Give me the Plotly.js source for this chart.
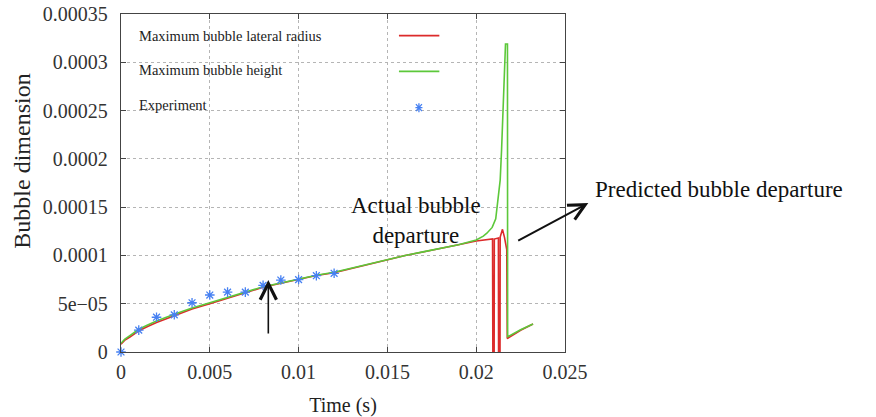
<!DOCTYPE html>
<html>
<head>
<meta charset="utf-8">
<script src="https://cdn.plot.ly/plotly-3.0.1.min.js"></script>
<style>
html,body{margin:0;padding:0;background:#fff;}
#chart{width:876px;height:417px;}
</style>
</head>
<body>
<div id="chart"></div>
<script>
// ---- data ----
var timeRadius = [0, 0.0002, 0.0005, 0.001, 0.0015, 0.002, 0.003, 0.004, 0.005, 0.006, 0.007, 0.008, 0.009, 0.010, 0.011, 0.012, 0.013, 0.014, 0.015, 0.016, 0.017, 0.018, 0.019, 0.020, 0.0205, 0.02092, 0.02094, 0.02101, 0.02102, 0.02125, 0.02126, 0.02134, 0.02135, 0.02148, 0.02159, 0.02167, 0.02172, 0.02175, 0.0225, 0.0232];
var lateralRadius = [0.8e-5, 1.2e-5, 1.55e-5, 2.2e-5, 2.65e-5, 3.05e-5, 3.75e-5, 4.45e-5, 5.0e-5, 5.55e-5, 6.1e-5, 6.7e-5, 7.12e-5, 7.52e-5, 7.92e-5, 8.2e-5, 8.65e-5, 9.1e-5, 9.55e-5, 1.0e-4, 1.035e-4, 1.07e-4, 1.11e-4, 1.15e-4, 1.165e-4, 1.17e-4, -1e-5, -1e-5, 1.17e-4, 1.18e-4, -1e-5, -1e-5, 1.19e-4, 1.27e-4, 1.19e-4, 1.1e-4, 1.06e-4, 1.4e-5, 2.25e-5, 2.9e-5];

var timeHeight = [0, 0.0002, 0.0005, 0.001, 0.0015, 0.002, 0.003, 0.004, 0.005, 0.006, 0.007, 0.008, 0.009, 0.010, 0.011, 0.012, 0.013, 0.014, 0.015, 0.016, 0.017, 0.018, 0.019, 0.020, 0.0204, 0.0206, 0.0209, 0.0211, 0.02126, 0.02135, 0.02143, 0.02147, 0.0215, 0.02153, 0.0216, 0.02165, 0.02176, 0.02177, 0.0225, 0.0232];
var bubbleHeight = [0.9e-5, 1.3e-5, 1.7e-5, 2.35e-5, 2.8e-5, 3.2e-5, 3.9e-5, 4.55e-5, 5.1e-5, 5.65e-5, 6.15e-5, 6.75e-5, 7.15e-5, 7.55e-5, 7.95e-5, 8.25e-5, 8.7e-5, 9.12e-5, 9.57e-5, 1.0e-4, 1.037e-4, 1.072e-4, 1.11e-4, 1.16e-4, 1.2e-4, 1.23e-4, 1.29e-4, 1.38e-4, 1.6e-4, 1.78e-4, 2.1e-4, 2.3e-4, 2.4e-4, 2.7e-4, 2.98e-4, 3.19e-4, 3.19e-4, 1.58e-5, 2.3e-5, 2.9e-5];

var timeExp = [0, 0.001, 0.002, 0.003, 0.004, 0.005, 0.006, 0.007, 0.008, 0.009, 0.010, 0.011, 0.012];
var experiment = [0, 2.27e-5, 3.6e-5, 3.85e-5, 5.1e-5, 5.9e-5, 6.2e-5, 6.2e-5, 6.9e-5, 7.45e-5, 7.5e-5, 7.9e-5, 8.15e-5];

var xTickVals = [0, 0.005, 0.01, 0.015, 0.02, 0.025];
var xTickText = ['0', '0.005', '0.01', '0.015', '0.02', '0.025'];
var yTickVals = [0, 5e-5, 1e-4, 1.5e-4, 2e-4, 2.5e-4, 3e-4, 3.5e-4];
var yTickText = ['0', '5e\u221205', '0.0001', '0.00015', '0.0002', '0.00025', '0.0003', '0.00035'];

var seriesNames = ['Maximum bubble lateral radius', 'Maximum bubble height', 'Experiment'];
var annotationTexts = ['Actual bubble<br>departure', 'Predicted bubble departure'];
var xTitle = 'Time (s)';
var yTitle = 'Bubble dimension';

var RED = '#dc2b2b', GREEN = '#5cc83a', BLUE = '#4680f2';
var SERIF = 'Liberation Serif, Times New Roman, serif';

var traces = [
  {x: timeRadius, y: lateralRadius, type: 'scatter', mode: 'lines', name: seriesNames[0],
   line: {color: RED, width: 1.6}},
  {x: timeHeight, y: bubbleHeight, type: 'scatter', mode: 'lines', name: seriesNames[1],
   line: {color: GREEN, width: 1.6}},
  {x: timeExp, y: experiment, type: 'scatter', mode: 'markers', name: seriesNames[2],
   marker: {symbol: 'asterisk-open', size: 8, color: BLUE, line: {color: BLUE, width: 1.3}}, cliponaxis: false}
];

function axisBase() {
  return {
    showline: true, linecolor: '#444', linewidth: 1.2, mirror: 'ticks',
    ticks: 'inside', ticklen: 5, tickcolor: '#444', tickwidth: 1,
    showgrid: true, gridcolor: '#b5b5b5', griddash: 'dot', gridwidth: 1,
    zeroline: false, tickfont: {family: SERIF, size: 20, color: '#333'}
  };
}

var xaxis = axisBase();
xaxis.range = [0, 0.025];
xaxis.tickvals = xTickVals;
xaxis.ticktext = xTickText;
xaxis.ticklabelstandoff = 2;
xaxis.title = {text: xTitle, font: {family: SERIF, size: 20, color: '#222'}};

var yaxis = axisBase();
yaxis.range = [0, 0.00035];
yaxis.tickvals = yTickVals;
yaxis.ticktext = yTickText;
yaxis.ticklabelstandoff = 8;

var layout = {
  width: 876, height: 417,
  margin: {l: 121, r: 311, t: 14, b: 65},
  paper_bgcolor: '#fff', plot_bgcolor: '#fff',
  font: {family: SERIF},
  showlegend: false,
  xaxis: xaxis,
  yaxis: yaxis,
  shapes: [
    {type: 'rect', xref: 'paper', yref: 'paper', x0: 0.002, x1: 0.7365, y0: 0.643, y1: 0.998,
     fillcolor: '#fff', line: {width: 0}, layer: 'between'},
    {type: 'line', xref: 'paper', yref: 'paper', x0: 0.626, x1: 0.717, y0: 0.936, y1: 0.936,
     line: {color: RED, width: 1.8}},
    {type: 'line', xref: 'paper', yref: 'paper', x0: 0.626, x1: 0.717, y0: 0.830, y1: 0.830,
     line: {color: GREEN, width: 1.8}},
    {type: 'path', xref: 'paper', yref: 'paper', xsizemode: 'pixel', ysizemode: 'pixel',
     xanchor: 0.671, yanchor: 0.723,
     path: 'M-3.5,0L3.5,0M0,-4.5L0,4.5M-3,-3.5L3,3.5M-3,3.5L3,-3.5',
     line: {color: BLUE, width: 1.3}}
  ],
  annotations: [
    {xref: 'paper', yref: 'paper', x: -0.223, y: 0.566, xanchor: 'center', yanchor: 'middle', showarrow: false,
     textangle: -90, text: yTitle, font: {family: SERIF, size: 24, color: '#222'}},
    {xref: 'paper', yref: 'paper', x: 0.037, y: 0.934, xanchor: 'left', yanchor: 'middle', showarrow: false,
     text: seriesNames[0], font: {family: SERIF, size: 14.5, color: '#222'}},
    {xref: 'paper', yref: 'paper', x: 0.037, y: 0.834, xanchor: 'left', yanchor: 'middle', showarrow: false,
     text: seriesNames[1], font: {family: SERIF, size: 14.5, color: '#222'}},
    {xref: 'paper', yref: 'paper', x: 0.037, y: 0.732, xanchor: 'left', yanchor: 'middle', showarrow: false,
     text: seriesNames[2], font: {family: SERIF, size: 14.5, color: '#222'}},
    {xref: 'paper', yref: 'paper', x: 0.664, y: 0.388, xanchor: 'center', yanchor: 'middle', showarrow: false,
     text: annotationTexts[0], font: {family: SERIF, size: 23, color: '#111'}},
    {xref: 'paper', yref: 'paper', x: 1.347, y: 0.48, xanchor: 'center', yanchor: 'middle', showarrow: false,
     text: annotationTexts[1], font: {family: SERIF, size: 23, color: '#111'}},
    {xref: 'paper', yref: 'paper', x: 0.3318, y: 0.2133, ax: 0, ay: 55, text: '', showarrow: true,
     arrowhead: 5, arrowsize: 2, arrowwidth: 1.6, arrowcolor: '#111'},
    {xref: 'paper', yref: 'paper', x: 1.0525, y: 0.4406, ax: -71.6, ay: 38.4, text: '', showarrow: true,
     arrowhead: 5, arrowsize: 1.6, arrowwidth: 2, arrowcolor: '#111'}
  ]
};

Plotly.newPlot('chart', traces, layout, {displayModeBar: false, staticPlot: true});
</script>
</body>
</html>
